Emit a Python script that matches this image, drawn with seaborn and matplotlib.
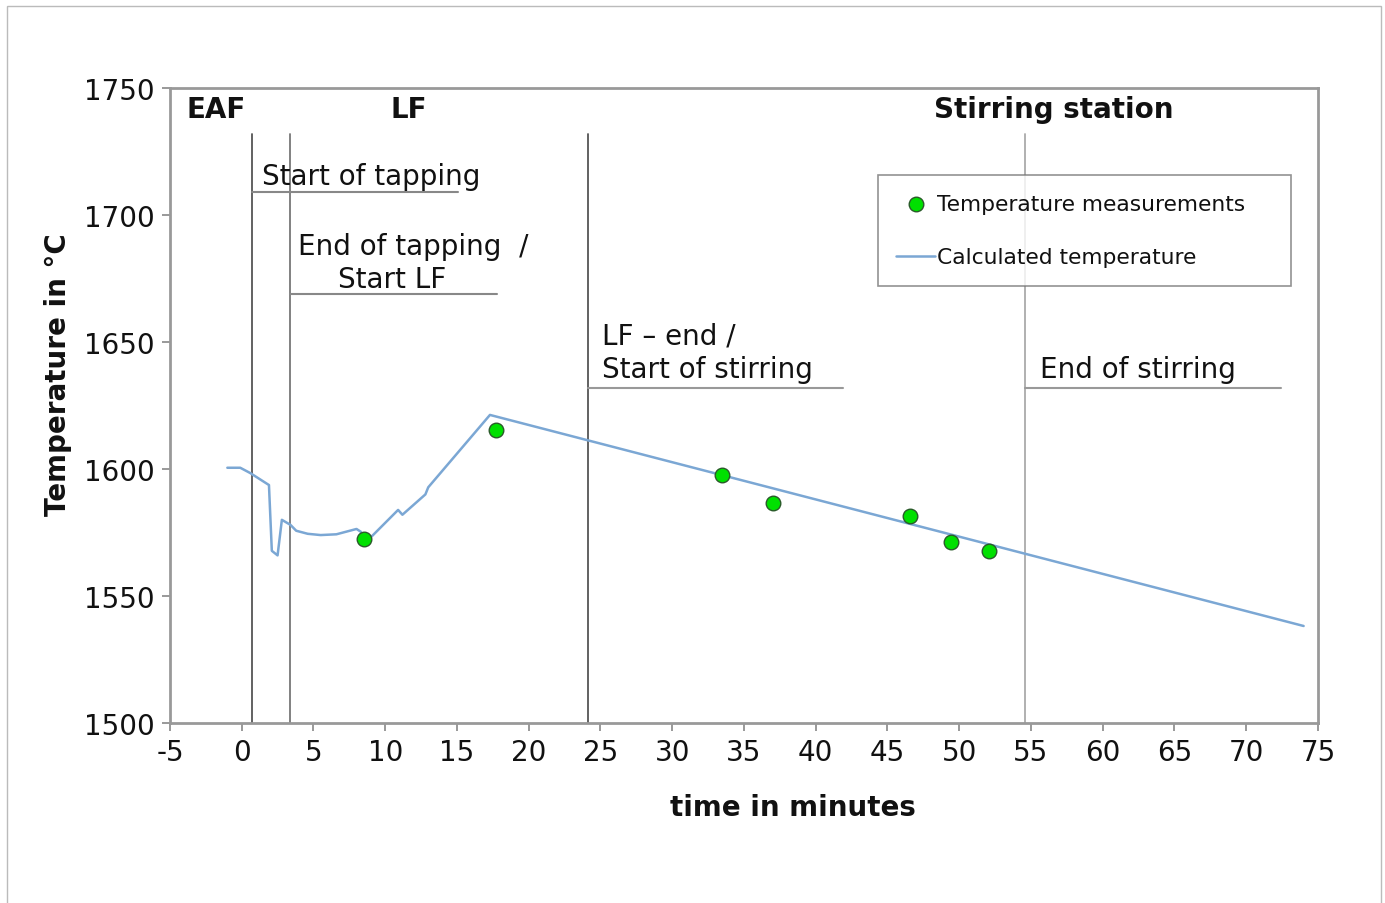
import seaborn as sns
import matplotlib.pyplot as plt
import pandas as pd

# calculated temperature curve
calc_time = [-1.0, -0.1, 0.6, 1.9, 2.1, 2.5, 2.8, 3.4, 3.8, 4.6, 5.5, 6.6, 8.0, 8.3, 8.6, 9.1,
             10.9, 11.2, 12.8, 13.0, 17.3, 74.0]
calc_temp = [1600.5, 1600.5, 1598.4, 1593.7, 1567.8, 1566.0, 1580.0, 1578.0, 1575.7, 1574.5,
             1574.0, 1574.3, 1576.4, 1575.3, 1571.5, 1573.7, 1583.9, 1582.0, 1590.0, 1592.8,
             1621.3, 1538.2]

# measured temperatures
meas_time = [8.5, 17.7, 33.5, 37.0, 46.6, 49.4, 52.1]
meas_temp = [1572.4, 1615.4, 1597.6, 1586.6, 1581.5, 1571.3, 1567.7]

# process events
event_time = [0.7, 3.4, 24.1, 54.6]
event_color = ["#555555", "#777777", "#555555", "#aaaaaa"]

sns.set_style("white")
plt.rcParams['font.family'] = ['DejaVu Sans']
plt.rcParams['axes.unicode_minus'] = False
plt.rcParams['text.color'] = "#111111"
plt.rcParams['axes.labelcolor'] = "#111111"
plt.rcParams['xtick.labelcolor'] = "#111111"
plt.rcParams['ytick.labelcolor'] = "#111111"

fig = plt.figure(figsize=(13.85, 9.04), dpi=100)
ax = fig.add_axes([0.1227, 0.1991, 0.8289, 0.7024])

calc = pd.DataFrame({"t": calc_time, "T": calc_temp})
meas = pd.DataFrame({"t": meas_time, "T": meas_temp})

sns.lineplot(data=calc, x="t", y="T", ax=ax, color="#7ba7d4", linewidth=1.8,
             estimator=None, sort=False, label="Calculated temperature    ", zorder=3)
sns.scatterplot(data=meas, x="t", y="T", ax=ax, color="#00e000", edgecolor="#2a5a2a",
                s=110, linewidth=1.0, label="Temperature measurements    ", zorder=4)

for t, c in zip(event_time, event_color):
    ax.plot([t, t], [1500, 1732], color=c, linewidth=1.3, zorder=2)

# annotation underlines
ax.plot([0.7, 15.1], [1709, 1709], color="#888888", lw=1.5)
ax.plot([3.4, 17.8], [1669, 1669], color="#888888", lw=1.5)
ax.plot([24.1, 41.9], [1632, 1632], color="#999999", lw=1.5)
ax.plot([54.6, 72.4], [1632, 1632], color="#999999", lw=1.5)

fs = 20
ax.text(1.45, 1715.4, "Start of tapping", fontsize=fs, ha="left", va="center")
ax.text(3.9, 1687.8, "End of tapping  /", fontsize=fs, ha="left", va="center")
ax.text(6.7, 1674.8, "Start LF", fontsize=fs, ha="left", va="center")
ax.text(25.1, 1652.4, "LF \u2013 end /", fontsize=fs, ha="left", va="center")
ax.text(25.1, 1639.4, "Start of stirring", fontsize=fs, ha="left", va="center")
ax.text(55.6, 1639.4, "End of stirring", fontsize=fs, ha="left", va="center")

ax.text(-1.8, 1741.7, "EAF", fontsize=fs, fontweight="bold", ha="center", va="center")
ax.text(11.65, 1741.7, "LF", fontsize=fs, fontweight="bold", ha="center", va="center")
ax.text(56.6, 1741.7, "Stirring station", fontsize=fs, fontweight="bold", ha="center", va="center")

ax.set_xlim(-5, 75)
ax.set_ylim(1500, 1750)
ax.set_xticks(range(-5, 80, 5))
ax.set_yticks(range(1500, 1800, 50))
ax.tick_params(axis="both", labelsize=fs, direction="out", length=6, width=1.2,
               color="#888888", left=True, bottom=True, pad=5)
for s in ax.spines.values():
    s.set_color("#999999")
    s.set_linewidth(2)

ax.set_xlabel("time in minutes", fontsize=fs, fontweight="bold")
ax.set_ylabel("Temperature in \u00b0C", fontsize=fs, fontweight="bold")
ax.xaxis.set_label_coords(0.543, -0.11)
ax.yaxis.set_label_coords(-0.085, 0.551)

handles, labels = ax.get_legend_handles_labels()
leg = ax.legend(handles[::-1], labels[::-1], loc="upper right", bbox_to_anchor=(0.9765, 0.863),
                borderaxespad=0, fontsize=15.7, frameon=True, fancybox=False, edgecolor="#777777",
                borderpad=0.85, labelspacing=1.55, handlelength=1.75, handletextpad=0.1)
leg.get_frame().set_linewidth(1.2)

fig.patches.append(plt.Rectangle((0.005, -0.01), 0.992, 1.002, transform=fig.transFigure,
                                 fill=False, edgecolor="#bbbbbb", linewidth=1))

fig.savefig("out.png", dpi=100)
